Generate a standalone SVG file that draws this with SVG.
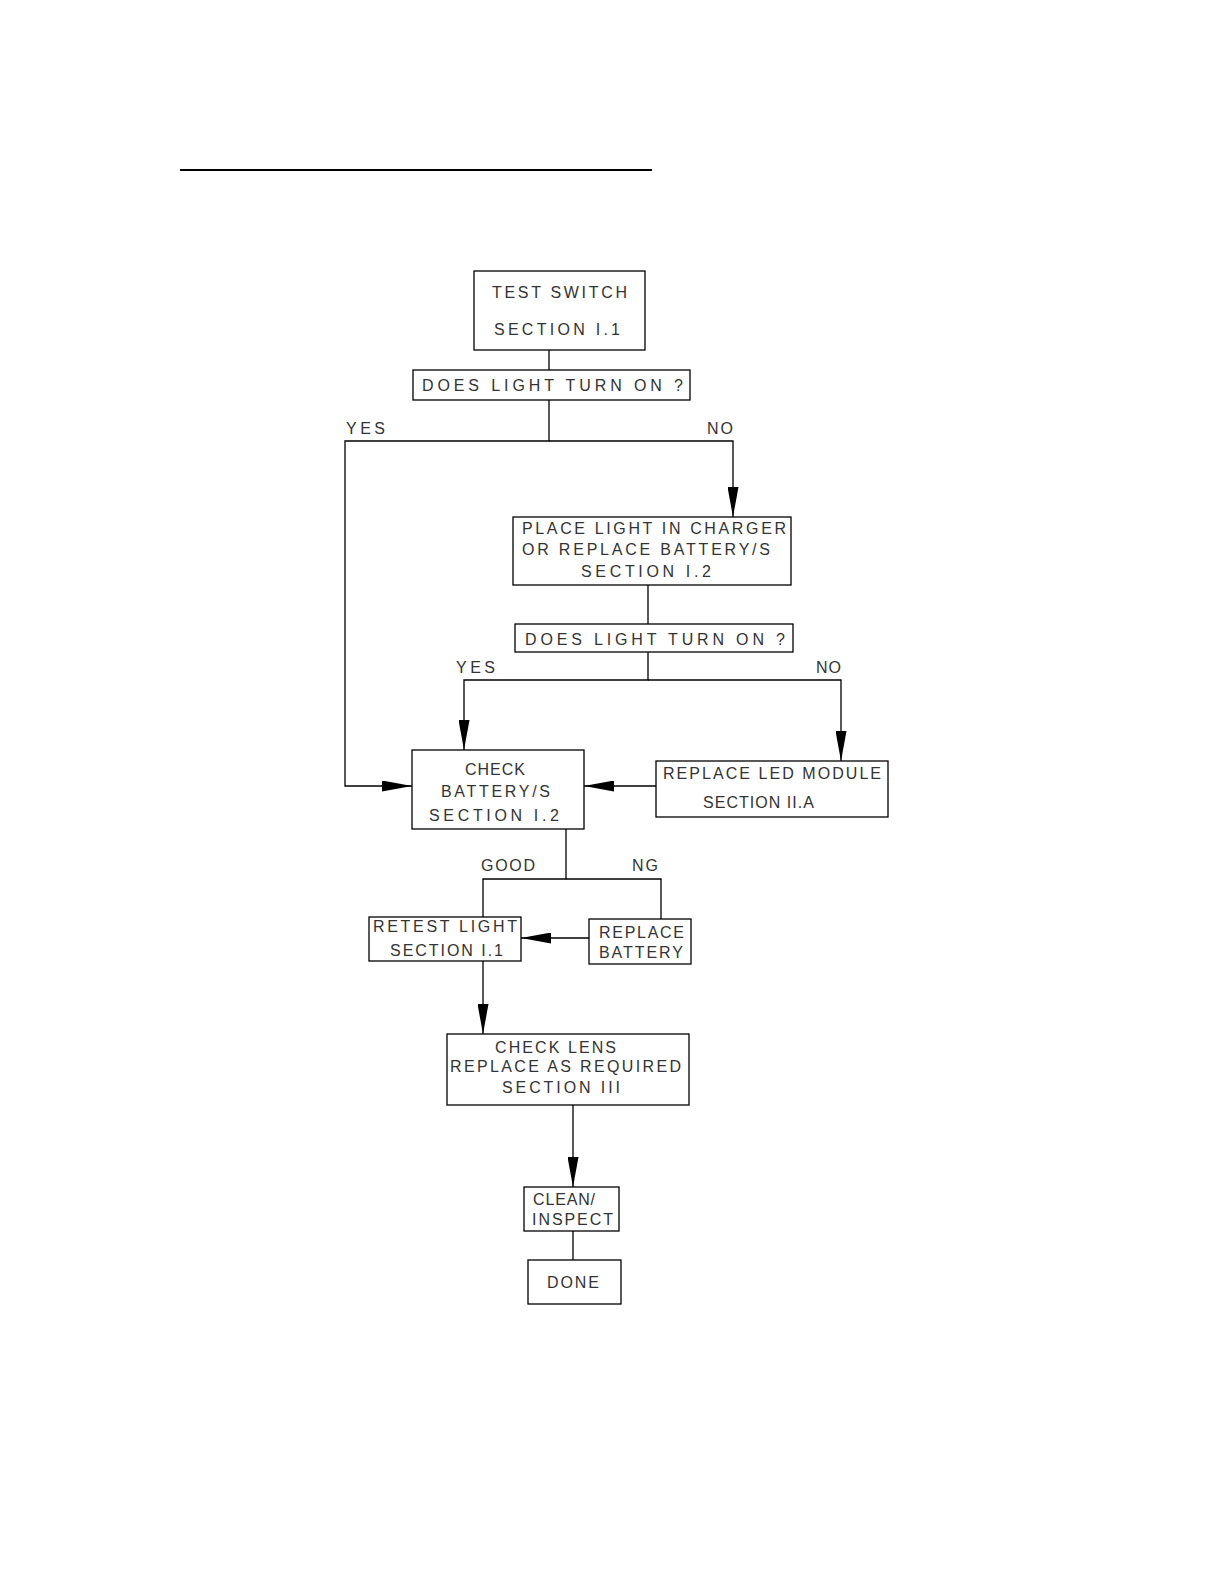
<svg xmlns="http://www.w3.org/2000/svg" width="1224" height="1584" viewBox="0 0 1224 1584">
<style>
.box{fill:#fff;stroke:#000;stroke-width:1.3}
.con{fill:none;stroke:#000;stroke-width:1.3}
.arr{fill:none;stroke:#000;stroke-width:1.3;marker-end:url(#ah)}
text{font-family:"Liberation Sans",Arial,sans-serif;font-size:16px;fill:#333}
</style>
<defs>
<marker id="ah" markerUnits="userSpaceOnUse" viewBox="0 0 30 11" refX="30" refY="5.5" markerWidth="30" markerHeight="11" orient="auto">
<path d="M0 0 L30 5.5 L0 11 Z" fill="#000"/>
</marker>
</defs>
<rect width="1224" height="1584" fill="#fff"/>
<line x1="180" y1="170" x2="652" y2="170" stroke="#000" stroke-width="2"/>

<g id="connectors">
<path class="con" d="M549 350 V370"/>
<path class="arr" d="M549 400 V441 H345 V786 H412"/>
<path class="arr" d="M549 441 H733 V517"/>
<path class="con" d="M648 585 V624"/>
<path class="arr" d="M648 652 V680 H464 V750"/>
<path class="arr" d="M648 680 H841 V761"/>
<path class="arr" d="M656 786 H584"/>
<path class="con" d="M566 829 V879 H483 V917"/>
<path class="con" d="M566 879 H661 V919"/>
<path class="arr" d="M589 938 H521"/>
<path class="arr" d="M483 961 V1034"/>
<path class="arr" d="M573 1105 V1187"/>
<path class="con" d="M573 1231 V1260"/>
<text x="346" y="434" textLength="39" lengthAdjust="spacing">YES</text>
<text x="707" y="434" textLength="26" lengthAdjust="spacing">NO</text>
<text x="456" y="673" textLength="39" lengthAdjust="spacing">YES</text>
<text x="816" y="673" textLength="25" lengthAdjust="spacing">NO</text>
<text x="481" y="871" textLength="54" lengthAdjust="spacing">GOOD</text>
<text x="632" y="871" textLength="26" lengthAdjust="spacing">NG</text>
</g>

<g id="test-switch">
<rect class="box" x="474" y="271" width="171" height="79"/>
<text x="492" y="298" textLength="135" lengthAdjust="spacing">TEST SWITCH</text>
<text x="494" y="335" textLength="126" lengthAdjust="spacing">SECTION I.1</text>
</g>

<g id="does-light-1">
<rect class="box" x="413" y="370" width="277" height="30"/>
<text x="422" y="391" textLength="261" lengthAdjust="spacing">DOES LIGHT TURN ON ?</text>
</g>

<g id="place-light">
<rect class="box" x="513" y="517" width="278" height="68"/>
<text x="522" y="534" textLength="264" lengthAdjust="spacing">PLACE LIGHT IN CHARGER</text>
<text x="522" y="555" textLength="248" lengthAdjust="spacing">OR REPLACE BATTERY/S</text>
<text x="581" y="577" textLength="130" lengthAdjust="spacing">SECTION I.2</text>
</g>

<g id="does-light-2">
<rect class="box" x="515" y="624" width="278" height="28"/>
<text x="525" y="645" textLength="260" lengthAdjust="spacing">DOES LIGHT TURN ON ?</text>
</g>

<g id="check-battery">
<rect class="box" x="412" y="750" width="172" height="79"/>
<text x="465" y="775" textLength="60" lengthAdjust="spacing">CHECK</text>
<text x="441" y="797" textLength="109" lengthAdjust="spacing">BATTERY/S</text>
<text x="429" y="821" textLength="130" lengthAdjust="spacing">SECTION I.2</text>
</g>

<g id="replace-led">
<rect class="box" x="656" y="761" width="232" height="56"/>
<text x="663" y="779" textLength="218" lengthAdjust="spacing">REPLACE LED MODULE</text>
<text x="703" y="808" textLength="111" lengthAdjust="spacing">SECTION II.A</text>
</g>

<g id="retest-light">
<rect class="box" x="369" y="917" width="152" height="44"/>
<text x="373" y="932" textLength="144" lengthAdjust="spacing">RETEST LIGHT</text>
<text x="390" y="956" textLength="113" lengthAdjust="spacing">SECTION I.1</text>
</g>

<g id="replace-battery">
<rect class="box" x="589" y="919" width="102" height="45"/>
<text x="599" y="938" textLength="85" lengthAdjust="spacing">REPLACE</text>
<text x="599" y="958" textLength="84" lengthAdjust="spacing">BATTERY</text>
</g>

<g id="check-lens">
<rect class="box" x="447" y="1034" width="242" height="71"/>
<text x="495" y="1053" textLength="121" lengthAdjust="spacing">CHECK LENS</text>
<text x="450" y="1072" textLength="231" lengthAdjust="spacing">REPLACE AS REQUIRED</text>
<text x="502" y="1093" textLength="118" lengthAdjust="spacing">SECTION III</text>
</g>

<g id="clean-inspect">
<rect class="box" x="524" y="1187" width="95" height="44"/>
<text x="533" y="1205" textLength="62" lengthAdjust="spacing">CLEAN/</text>
<text x="532" y="1225" textLength="81" lengthAdjust="spacing">INSPECT</text>
</g>

<g id="done">
<rect class="box" x="528" y="1260" width="93" height="44"/>
<text x="547" y="1288" textLength="52" lengthAdjust="spacing">DONE</text>
</g>
</svg>
